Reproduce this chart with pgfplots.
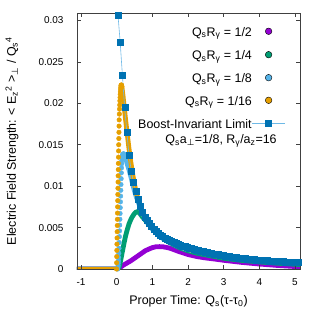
\documentclass[border=0pt]{standalone}
\usepackage{fontspec}
\setmainfont{Liberation Sans}
\newfontfamily\dejavu{DejaVu Sans}
\usepackage{pgfplots}
\pgfplotsset{compat=1.18}
\definecolor{cpurple}{RGB}{148,0,211}
\definecolor{cgreen}{RGB}{0,158,115}
\definecolor{clblue}{RGB}{86,180,233}
\definecolor{corange}{RGB}{230,159,0}
\definecolor{cblue}{RGB}{0,114,178}
\definecolor{cline}{RGB}{110,185,230}
\newcommand\ls{\rule[-3bp]{0pt}{14bp}}
\pgfplotsset{
 legend image code/.code={\path (0bp,-1bp) (33bp,1bp);
   \draw[mark repeat=2,mark phase=2,#1] plot coordinates {(0bp,0bp) (16.5bp,0bp) (33bp,0bp)};},
 legax/.style={scale only axis, width=223bp, height=256bp, at={(0,0)}, anchor=south west,
   hide axis, xmin=0, xmax=1, ymin=0, ymax=1, legend cell align=right, legend plot pos=right,
   legend style={draw=none, fill=none, at={(0.935,#1)}, anchor=east, inner sep=0pt,
     font=\fontsize{12.5}{15}\selectfont, column sep=0pt, nodes={inner sep=0pt}}},
}
\begin{document}
\begin{tikzpicture}
\begin{axis}[
 scale only axis, width=223bp, height=256bp,
 at={(0,0)}, anchor=south west,
 xmin=-1.113, xmax=5.14, ymin=0, ymax=0.0309,
 scaled ticks=false,
 xtick={-1,0,1,2,3,4,5}, xticklabels={-1,0,1,2,3,4,5},
 ytick={0,0.005,0.01,0.015,0.02,0.025,0.03},
 yticklabels={0,0.005,0.01,0.015,0.02,0.025,0.03},
 tick align=inside, tick pos=both, major tick length=4bp,
 axis line style={black!75, line width=0.6bp},
 every tick/.style={black!75, line width=0.6bp},
 ticklabel style={font=\fontsize{10}{12}\selectfont},
 yticklabel style={xshift=-10bp},
 xticklabel style={yshift=-6.5bp},
 xlabel={Proper Time: Q\textsubscript{s}(τ-τ\textsubscript{0})},
 ylabel={Electric Field Strength: < E\textsubscript{z}\textsuperscript{2} >\textsubscript{\dejavu ⊥} / Q\textsubscript{s}\textsuperscript{4}},
 label style={font=\fontsize{12.5}{15}\selectfont},
 xlabel style={at={(axis description cs:0.5,-0.127)}, anchor=center},
 ylabel style={at={(axis description cs:-0.2915,0.5)}, anchor=center},
 axis on top, clip=true,
]
% QsRg = 1/2
\addplot[cpurple, line width=4.8bp, line cap=round, line join=round] coordinates {
(-1.3,0) (0,0) (0.1,0.0002) (0.2,0.0005) (0.3,0.00075) (0.4,0.001) (0.5,0.0013) (0.6,0.0016)
(0.7,0.0019) (0.8,0.0022) (0.9,0.0024) (1.0,0.00258) (1.1,0.00268) (1.2,0.0027) (1.3,0.00268)
(1.4,0.0026) (1.5,0.0025) (1.75,0.0021) (2.0,0.00175) (2.25,0.0015) (2.5,0.00133) (2.75,0.0012)
(3.0,0.00105) (3.5,0.0008) (3.75,0.0007) (4.0,0.0006) (4.5,0.00043) (5.0,0.0003) (5.2,0.00026)};
% QsRg = 1/4
\addplot[cgreen, line width=4.8bp, line cap=round, line join=round] coordinates {
(-1.3,0) (0.05,0) (0.08,0.0004) (0.11,0.001) (0.15,0.0019) (0.2,0.003) (0.25,0.004) (0.3,0.0048)
(0.35,0.0055) (0.4,0.006) (0.45,0.0064) (0.5,0.0067) (0.55,0.0069) (0.6,0.0069) (0.65,0.0067)
(0.7,0.0064) (0.8,0.0059) (0.9,0.0054) (1.0,0.0049) (1.2,0.004) (1.4,0.0034) (1.6,0.0029)
(1.8,0.0025) (2.0,0.0022) (2.25,0.0019) (2.5,0.0017) (2.75,0.0015) (3.0,0.0013) (3.5,0.00104)
(4.0,0.00085) (4.5,0.0007) (5.0,0.00057) (5.2,0.00053)};
% QsRg = 1/8
\addplot[clblue, line width=4.8bp, line cap=round] coordinates {(-1.3,0) (0.0,0)};
\addplot[clblue, only marks, mark=*, mark size=2.3bp] coordinates {
(0.03,0) (0.035,0.0002) (0.04,0.0004) (0.045,0.0007) (0.05,0.001) (0.055,0.0014) (0.06,0.0019)
(0.065,0.0025) (0.07,0.0032) (0.075,0.0039) (0.08,0.0046) (0.085,0.0053) (0.09,0.006)
(0.095,0.0067) (0.1,0.0074) (0.105,0.0081) (0.11,0.0088) (0.115,0.0095) (0.12,0.0102)
(0.125,0.0109) (0.13,0.0116) (0.135,0.0122) (0.14,0.0127) (0.145,0.0131) (0.15,0.0134)
(0.155,0.0136) (0.16,0.0137) (0.165,0.0138) (0.175,0.0138) (0.185,0.0139) (0.195,0.0139) (0.205,0.0138)};
\addplot[clblue, line width=4.8bp, line cap=round, line join=round] coordinates {
(0.21,0.0138) (0.24,0.0135) (0.27,0.0131) (0.3,0.0126) (0.35,0.0119) (0.4,0.0111) (0.45,0.0102)
(0.5,0.0094) (0.55,0.0087) (0.6,0.0081) (0.7,0.007) (0.8,0.0061) (0.9,0.0054) (1.0,0.0048)
(1.2,0.004) (1.4,0.0034) (1.6,0.003) (1.8,0.0026) (2.0,0.00235) (2.25,0.0021) (2.5,0.00185)
(3.0,0.00145) (3.5,0.00118) (4.0,0.00098) (4.5,0.00083) (5.0,0.0007) (5.2,0.00068)};
% QsRg = 1/16
\addplot[corange, line width=4.8bp, line cap=round] coordinates {(-1.3,0) (-0.1,0)};
\addplot[corange, only marks, mark=*, mark size=2.3bp] coordinates {
(-0.005,0) (-0.0019,0.00075) (0.0012,0.0015) (0.0043,0.00225) (0.0074,0.003) (0.0105,0.00375)
(0.0136,0.0045) (0.0167,0.00525) (0.0198,0.006) (0.0229,0.00675) (0.026,0.0075) (0.0291,0.00825)
(0.0322,0.009) (0.0353,0.00975) (0.0384,0.0105) (0.0415,0.01125) (0.0446,0.012) (0.0477,0.01275)
(0.0508,0.0135) (0.0539,0.01425) (0.057,0.015) (0.0601,0.01575) (0.0632,0.0165) (0.0663,0.01725)
(0.07,0.018) (0.075,0.0187) (0.08,0.0193) (0.085,0.0198) (0.09,0.0203) (0.095,0.0207) (0.1,0.0211)
(0.105,0.0214) (0.11,0.0217) (0.115,0.0219) (0.12,0.0221) (0.125,0.0222) (0.13,0.0222)
(0.135,0.0222) (0.14,0.0221) (0.145,0.022)};
\addplot[corange, line width=4.8bp, line cap=round, line join=round] coordinates {
(0.145,0.022) (0.16,0.0215) (0.18,0.0208) (0.2,0.02) (0.22,0.0192) (0.25,0.018) (0.28,0.0169)
(0.31,0.0158) (0.34,0.0147) (0.37,0.0137) (0.4,0.0128) (0.45,0.0114) (0.5,0.0102) (0.55,0.0092)
(0.6,0.0084) (0.7,0.0071) (0.8,0.0062) (0.9,0.0055) (1.0,0.0049) (1.2,0.0041) (1.4,0.0035)
(1.6,0.00305) (1.8,0.0027) (2.0,0.0024) (2.25,0.00212) (2.5,0.0019) (3.0,0.00148) (3.5,0.0012)
(4.0,0.001) (4.5,0.00085) (5.0,0.00072) (5.2,0.0007)};
% Boost-invariant limit
\addplot[cline, line width=0.6bp, mark=square*, mark size=3bp,
  mark options={cblue, fill=cblue, line width=0.2bp}] coordinates {
(-0.0275,0.034) (0.035,0.0307) (0.0975,0.0274) (0.16,0.0234) (0.2225,0.0195) (0.285,0.0165)
(0.3475,0.0137) (0.41,0.0118) (0.4725,0.01045) (0.535,0.0094) (0.5975,0.00845) (0.66,0.0076)
(0.7225,0.0069) (0.785,0.0063) (0.8475,0.0059) (0.91,0.0055) (0.9725,0.00515) (1.035,0.00485)
(1.0975,0.00459) (1.16,0.00436) (1.2225,0.00415) (1.285,0.00396) (1.3475,0.00379) (1.41,0.00364)
(1.4725,0.0035) (1.535,0.00336) (1.5975,0.00323) (1.66,0.00312) (1.7225,0.00301) (1.785,0.00291)
(1.8475,0.00282) (1.91,0.00273) (1.9725,0.00264) (2.035,0.00256) (2.0975,0.00248) (2.16,0.00241)
(2.2225,0.00234) (2.285,0.00228) (2.3475,0.00222) (2.41,0.00215) (2.4725,0.00209) (2.535,0.00203)
(2.5975,0.00197) (2.66,0.00191) (2.7225,0.00185) (2.785,0.0018) (2.8475,0.00174) (2.91,0.00169)
(2.9725,0.00164) (3.035,0.00159) (3.0975,0.00155) (3.16,0.00151) (3.2225,0.00147) (3.285,0.00143)
(3.3475,0.00139) (3.41,0.00136) (3.4725,0.00132) (3.535,0.00129) (3.5975,0.00126) (3.66,0.00123)
(3.7225,0.0012) (3.785,0.00118) (3.8475,0.00115) (3.91,0.00113) (3.9725,0.00111) (4.035,0.00109)
(4.0975,0.00107) (4.16,0.00105) (4.2225,0.00103) (4.285,0.00101) (4.3475,0.00099) (4.41,0.00097)
(4.4725,0.00095) (4.535,0.00094) (4.5975,0.00092) (4.66,0.0009) (4.7225,0.00089) (4.785,0.00087)
(4.8475,0.00086) (4.91,0.00084) (4.9725,0.00083) (5.035,0.00082) (5.0975,0.0008)};
\node[font=\fontsize{12.5}{15}\selectfont, anchor=center] at (axis cs:2.925,0.0155)
  {Q\textsubscript{s}a\textsubscript{\dejavu ⊥}=1/8, R\textsubscript{γ}/a\textsubscript{z}=16};
\end{axis}
% legend rows
\begin{axis}[legax=0.9286]
\addlegendimage{only marks, mark=*, mark size=3.3bp, mark options={draw=none, fill=cpurple}}
\addlegendentry{\ls Q\textsubscript{s}R\textsubscript{γ} = 1/2}
\end{axis}
\begin{axis}[legax=0.8371]
\addlegendimage{only marks, mark=*, mark size=3.3bp, mark options={draw=none, fill=cgreen}}
\addlegendentry{\ls Q\textsubscript{s}R\textsubscript{γ} = 1/4}
\end{axis}
\begin{axis}[legax=0.7473]
\addlegendimage{only marks, mark=*, mark size=3.3bp, mark options={draw=none, fill=clblue}}
\addlegendentry{\ls Q\textsubscript{s}R\textsubscript{γ} = 1/8}
\end{axis}
\begin{axis}[legax=0.659]
\addlegendimage{only marks, mark=*, mark size=3.3bp, mark options={draw=none, fill=corange}}
\addlegendentry{\ls Q\textsubscript{s}R\textsubscript{γ} = 1/16}
\end{axis}
\begin{axis}[legax=0.5692]
\addlegendimage{cline, line width=0.6bp, mark=square*, mark size=3bp, mark options={draw=cblue, fill=cblue}}
\addlegendentry{\ls Boost-Invariant Limit\hspace{7.5bp}}
\end{axis}
\pgfresetboundingbox
\useasboundingbox (-77bp,-54bp) rectangle (246bp,269bp);
\end{tikzpicture}
\end{document}
